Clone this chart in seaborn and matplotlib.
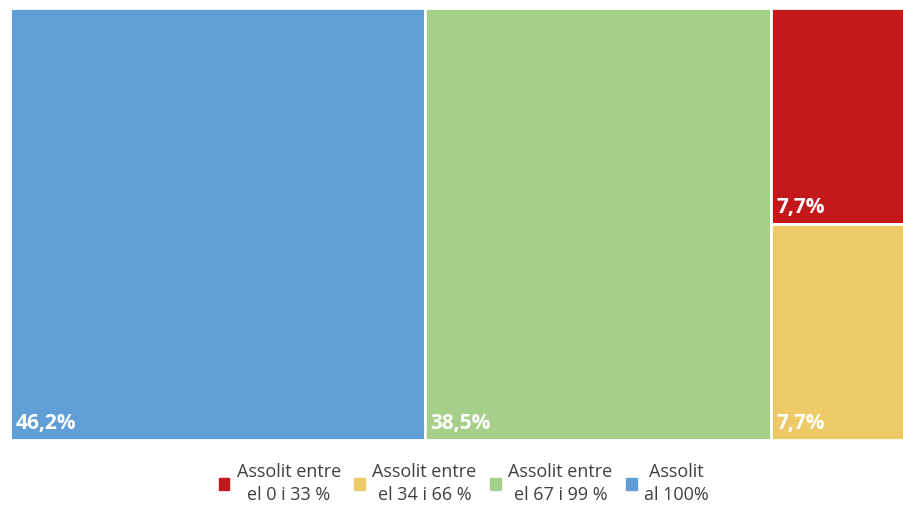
import matplotlib
matplotlib.use("Agg")
import matplotlib.pyplot as plt
import matplotlib.patches as mpatches
import seaborn as sns

# data
categories = ["Assolit entre\nel 0 i 33 %", "Assolit entre\nel 34 i 66 %",
              "Assolit entre\nel 67 i 99 %", "Assolit\nal 100%"]
values = [7.7, 7.7, 38.5, 46.2]
labels = ["7,7%", "7,7%", "38,5%", "46,2%"]
colors = ["#C4191B", "#EDC967", "#A6D08A", "#5F9FD6"]

sns.set_theme(style="white")
plt.rcParams['font.family'] = ['Open Sans', 'DejaVu Sans']

fig = plt.figure(figsize=(9.04, 5.05), dpi=100)
# the treemap runs slightly past the right edge of the picture
ax = fig.add_axes([10 / 904, 65 / 505, 899 / 904, 432 / 505])

total = sum(values)
# treemap columns: blue, green, then red over yellow
blue, green = values[3], values[2]
last_col = values[0] + values[1]
x0 = 0
cells = []
cells.append((x0, 0, blue, total, 3)); x0 += blue
cells.append((x0, 0, green, total, 2)); x0 += green
h_yellow = total * values[1] / last_col
cells.append((x0, h_yellow, last_col, total - h_yellow, 0))
cells.append((x0, 0, last_col, h_yellow, 1))

for x, y, w, h, i in cells:
    ax.bar(x, h, width=w, bottom=y, align="edge", color=colors[i],
           edgecolor="white", linewidth=2)
    ax.text(x + total * 0.006, y + total * 0.013, labels[i], color="white",
            fontsize=15, fontweight="bold", ha="left", va="bottom")

ax.set_xlim(0, total)
ax.set_ylim(0, total)
ax.axis("off")

handles = [mpatches.Patch(color=c, label=l) for c, l in zip(colors, categories)]
leg = fig.legend(handles=handles, loc="center", bbox_to_anchor=(0.513, 0.043),
                 ncol=4, frameon=False, fontsize=13, handlelength=0.6,
                 handleheight=0.6, handletextpad=0.4, columnspacing=0.75)
for t in leg.get_texts():
    t.set_multialignment("center")
    t.set_linespacing(1.35)
    t.set_color("#404040")

fig.savefig("out.png", dpi=100)
